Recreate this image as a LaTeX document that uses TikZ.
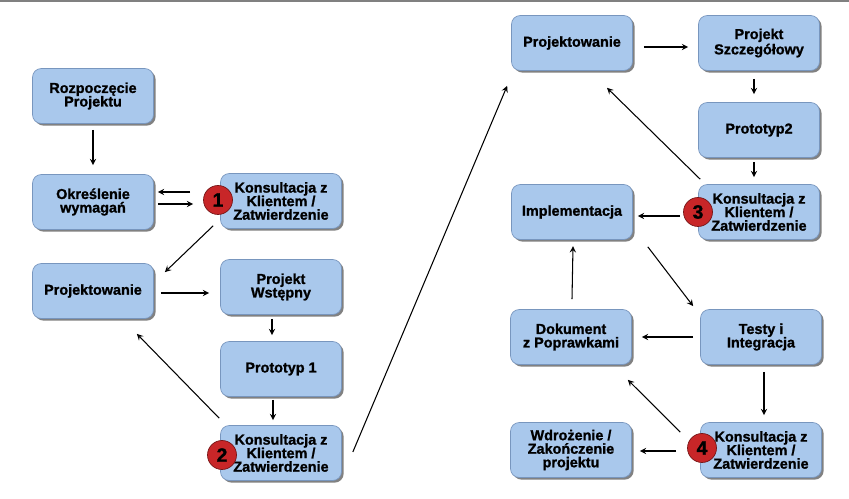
\documentclass[tikz,border=0pt]{standalone}
\usepackage{fontspec}
\setmainfont{Liberation Sans}[BoldFeatures={FakeBold=1.2}]
\usepackage{xcolor}
\usepackage{tikz}
\usetikzlibrary{arrows, calc, positioning, shadows}

\definecolor{boxblue}{RGB}{169,200,236}
\definecolor{boxedge}{RGB}{120,150,190}
\definecolor{badgered}{RGB}{200,38,40}

\begin{document}
\begin{tikzpicture}[x=0.02cm, y=-0.02cm, arrow/.style = {semithick,-stealth}]
					\tikzset{etap/.style={draw=boxedge, fill=boxblue, rounded corners=5pt, minimum width=2.42cm, minimum height=1.1cm, inner sep=1pt, align=center, font=\fontsize{8.2}{7.7}\selectfont\bfseries, drop shadow={shadow xshift=1.2pt, shadow yshift=-1.2pt, fill=black!55, opacity=0.9}}}
					\tikzset{znak/.style={circle, draw=badgered!60!black, fill=badgered, minimum size=0.58cm, inner sep=0pt, font=\fontsize{11}{11}\selectfont\bfseries}}

					\useasboundingbox (0,0) rectangle (849,499);
					\draw[black!50, line width=1.5pt] (0,1) -- (849,1);

					% Etap pierwszy

					\node[etap] (start) at (93,96) {Rozpoczęcie\\Projektu};
					\node[etap] (wymagania) at (93,202) {Określenie\\wymagań};
					\node[etap] (konsA) at (281,201) {Konsultacja z\\Klientem /\\Zatwierdzenie};
					\node[etap] (projA) at (93,291) {Projektowanie};
					\node[etap] (wstepny) at (281,287) {Projekt\\Wstępny};
					\node[etap] (protoA) at (281,369) {Prototyp 1};
					\node[etap] (konsB) at (281,453) {Konsultacja z\\Klientem /\\Zatwierdzenie};

					% Etap drugi

					\node[etap] (projB) at (572,43) {Projektowanie};
					\node[etap] (szczeg) at (759,43) {Projekt\\Szczegółowy};
					\node[etap] (protoB) at (759,130) {Prototyp2};
					\node[etap] (konsC) at (759,212) {Konsultacja z\\Klientem /\\Zatwierdzenie};
					\node[etap] (impl) at (572,212) {Implementacja};
					\node[etap] (dokument) at (571,337) {Dokument\\z Poprawkami};
					\node[etap] (testy) at (761,337) {Testy i\\Integracja};
					\node[etap] (konsD) at (761,450) {Konsultacja z\\Klientem /\\Zatwierdzenie};
					\node[etap] (koniec) at (571,450) {Wdrożenie /\\Zakończenie\\projektu};

					% Numery

					\node[znak] (n1) at (218,200) {1};
					\node[znak] (n2) at (222,455) {2};
					\node[znak] (n3) at (698,212) {3};
					\node[znak] (n4) at (702,448) {4};

					% Strzalki

					\draw[arrow] ($(start.south)+(0,6)$) -- ($(wymagania.north)+(0,-9)$);
					\draw[arrow] ($(n1.west)+(-13,-8)$) -- ($(wymagania.east)+(4,-10)$);
					\draw[arrow] ($(wymagania.east)+(4,2)$) -- ($(n1.west)+(-10,4)$);
					\draw[arrow] ($(konsA.south west)+(-7,-3)$) -- ($(projA.north east)+(11,9)$);
					\draw[arrow] ($(projA.east)+(7,2)$) -- ($(wstepny.west)+(-11,6)$);
					\draw[arrow] ($(wstepny.south)+(-9,4)$) -- ($(protoA.north)+(-9,-6)$);
					\draw[arrow] ($(protoA.south)+(-8,3)$) -- ($(konsB.north)+(-8,-5)$);
					\draw[arrow] ($(konsB.north west)+(-1,-7)$) -- ($(projA.south east)+(-17,15)$);
					\draw[arrow] ($(konsB.east)+(11,-1)$) -- ($(projB.south west)+(-4,15)$);
					\draw[arrow] ($(projB.east)+(11,4)$) -- ($(szczeg.west)+(-10,4)$);
					\draw[arrow] ($(szczeg.south)+(-5,8)$) -- ($(protoB.north)+(-5,-8)$);
					\draw[arrow] ($(protoB.south)+(-5,4)$) -- ($(konsC.north)+(-5,-7)$);
					\draw[arrow] ($(konsC.north west)+(2,-5)$) -- ($(projB.south)+(35,17)$);
					\draw[arrow] ($(n3.west)+(-3,4)$) -- ($(impl.east)+(5,4)$);
					\draw[arrow] ($(impl.south east)+(15,7)$) -- ($(testy.north west)+(-7,-3)$);
					\draw[arrow] ($(dokument.north)+(1,-10)$) -- ($(impl.north)+(1,62)$);
					\draw[arrow] ($(testy.west)+(-7,0)$) -- ($(dokument.east)+(10,0)$);
					\draw[arrow] ($(testy.south)+(3,7)$) -- ($(konsD.north)+(3,-7)$);
					\draw[arrow] ($(konsD.north west)+(-20,10)$) -- ($(dokument.south east)+(-4,15)$);
					\draw[arrow] ($(n4.west)+(-11,3)$) -- ($(koniec.east)+(8,1)$);

				\end{tikzpicture}
\end{document}
